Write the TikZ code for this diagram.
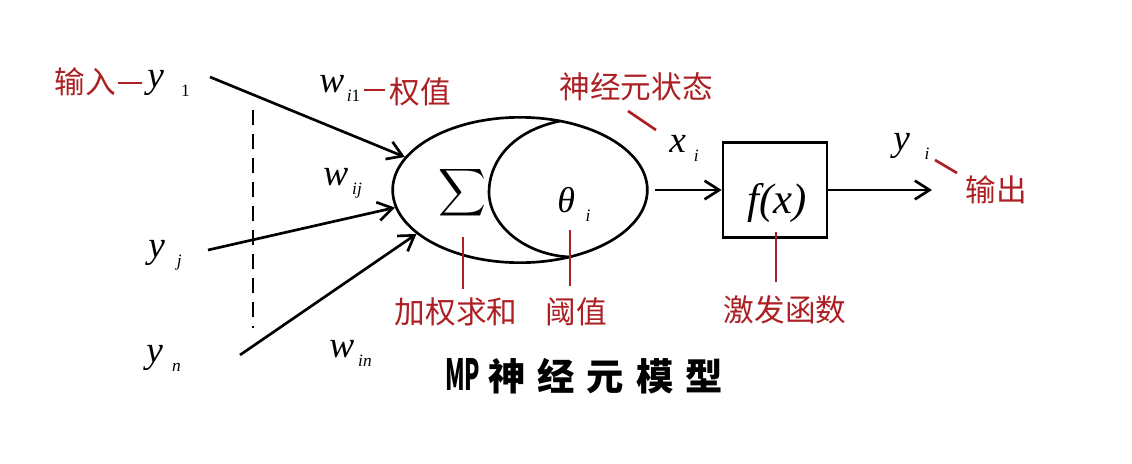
\documentclass[tikz,border=0pt]{standalone}
\usepackage{fontspec}
\usepackage{exscale}
\setmainfont{Liberation Serif}
\newfontfamily\cjk{Noto Sans CJK SC}
\usetikzlibrary{arrows.meta,shapes.geometric}
\definecolor{labelred}{RGB}{172,32,36}
% lowered small index after a letter
\newcommand\idx[2]{\hspace{#1}\raisebox{-7pt}{\fontsize{13}{13}\selectfont #2}}

\begin{document}
\begin{tikzpicture}[x=0.75pt,y=0.75pt,yscale=-1,xscale=1,
  line width=2pt,
  arr/.style={-{Straight Barb[length=11pt,width=14pt]}},
  redtick/.style={draw=labelred,line width=2pt},
  redlbl/.style={text=labelred,font=\cjk\fontsize{23}{26}\selectfont,inner sep=0pt},
  sym/.style={font=\itshape\fontsize{28}{30}\selectfont,inner sep=0pt,anchor=base west}]
\useasboundingbox (0,0) rectangle (1132,464);

% neuron body
\node [draw,ellipse,minimum width=191pt,minimum height=109pt,line width=2pt] (neuron) at (520,190) {};
\draw (560,121) .. controls (508,132) and (489,165) .. (489,192) .. controls (489,225) and (525,255) .. (570,257) ;
\node [inner sep=0pt,font=\fontsize{27}{30}\selectfont] (sigma) at (462,193) {$\displaystyle\sum$};
\node [sym,font=\itshape\fontsize{27}{30}\selectfont] (theta) at (556,212) {θ\idx{8pt}{i}};

% activation box
\node [draw,minimum width=78pt,minimum height=71pt,line width=2pt] (act) at (775,190) {};
\node [sym,font=\itshape\fontsize{32}{34}\selectfont] (fx) at (746,213) {f(x)};
\coordinate (out) at (932,190);

% inputs
\node [sym] (y1) at (146,87) {y\idx{13pt}{\upshape 1}};
\node [sym] (yj) at (147,257) {y\idx{9pt}{j}};
\node [sym] (yn) at (145,362) {y\idx{7pt}{n}};
\coordinate (in1) at (210,77);
\coordinate (inj) at (208,250);
\coordinate (inn) at (240,355);

%Straight Lines
\draw [arr] (in1) -- (neuron.164) ;
\draw [arr] (inj) -- (neuron.188) ;
\draw [arr] (inn) -- (neuron.203) ;
\draw [arr,shorten <=5pt] (neuron.east) -- (act.west) ;
\draw [arr] (act.east) -- (out) ;
\draw [dash pattern=on 11pt off 7pt] (253,110) -- (253,328) ;

% weights
\node [sym] (wi1) at (318,92) {w\idx{2pt}{i\upshape 1}};
\node [sym] (wij) at (322,185) {w\idx{3pt}{ij}};
\node [sym] (win) at (328,357) {w\idx{3pt}{in}};
\node [sym] (xi) at (668,152) {x\idx{6pt}{i}};
\node [sym] (yi) at (892,150) {y\idx{11pt}{i}};

% Text Node
\node [redlbl] (inlbl) at (85,82) {输入};
\node [redlbl] (wlbl) at (420,92) {权值};
\node [redlbl] (statelbl) at (636,87) {神经元状态};
\node [redlbl] (outlbl) at (996,190) {输出};
\node [redlbl] (sumlbl) at (456,312) {加权求和};
\node [redlbl] (thrlbl) at (576,312) {阈值};
\node [redlbl] (actlbl) at (785,310) {激发函数};

% red leaders
\draw [redtick] (118,83) -- (142,83) ;
\draw [redtick] (364,90) -- (385,90) ;
\draw [redtick] (628,111) -- (656,130) ;
\draw [redtick] (935,160) -- (957,173) ;
\draw [redtick] (463,237) -- (463,289) ;
\draw [redtick] (570,230) -- (570,286) ;
\draw [redtick] (776,232) -- (776,282) ;

% title
\node [inner sep=0pt,font=\cjk\bfseries\fontsize{28}{30}\selectfont] (title) at (584,376)
  {\scalebox{0.6}[1.15]{MP}\hspace{6pt}神\hspace{9pt}经\hspace{9pt}元\hspace{9pt}模\hspace{9pt}型};

\end{tikzpicture}
\end{document}
